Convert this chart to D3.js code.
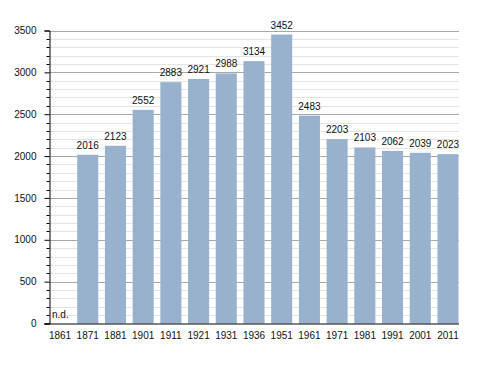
<!DOCTYPE html>
<html><head><meta charset="utf-8">
<script src="https://cdn.jsdelivr.net/npm/d3@7"></script>
<style>
html,body{margin:0;padding:0;background:#fff;}
svg text{font-family:"Liberation Sans",Arial,Helvetica,sans-serif;font-size:10px;fill:#111;}
</style></head>
<body><svg id="c" width="488" height="373"></svg>
<script>
const years = ["1861","1871","1881","1901","1911","1921","1931","1936","1951","1961","1971","1981","1991","2001","2011"];
const population = [null,2016,2123,2552,2883,2921,2988,3134,3452,2483,2203,2103,2062,2039,2023];
const yTicks = [0,500,1000,1500,2000,2500,3000,3500];
const missingLabel = "n.d.";

const svg = d3.select("#c");
const x = d3.scaleBand().domain(years).range([49.5, 458.5]).paddingInner(0.24).paddingOuter(0);
const y = d3.scaleLinear().domain([0,3500]).range([323.5, 30.5]);
const left = 49.5, right = 459;

// minor gridlines
const minor = d3.range(100, 3500, 100).filter(v => v % 500 !== 0);
svg.append("g").selectAll("line").data(minor).join("line")
  .attr("x1", left).attr("x2", right)
  .attr("y1", d => Math.round(y(d))+0.5).attr("y2", d => Math.round(y(d))+0.5)
  .attr("stroke", "#e4e4e4").attr("stroke-width", 1);
// major gridlines
svg.append("g").selectAll("line").data(yTicks.filter(v=>v>0)).join("line")
  .attr("x1", left).attr("x2", right)
  .attr("y1", d => Math.round(y(d))+0.5).attr("y2", d => Math.round(y(d))+0.5)
  .attr("stroke", "#a8a8a8").attr("stroke-width", 1);

// bars
const data = years.map((yr,i)=>({yr, v: population[i]}));
svg.append("g").selectAll("rect").data(data.filter(d=>d.v!=null)).join("rect")
  .attr("x", d => x(d.yr)).attr("width", x.bandwidth())
  .attr("y", d => y(d.v)).attr("height", d => y(0) - y(d.v))
  .attr("fill", "#98b2cd");

// value labels
svg.append("g").selectAll("text").data(data.filter(d=>d.v!=null)).join("text")
  .attr("x", d => x(d.yr) + x.bandwidth()/2)
  .attr("y", d => y(d.v) - 6)
  .attr("text-anchor", "middle")
  .text(d => d.v);
// n.d. label
svg.append("g").selectAll("text").data(data.filter(d=>d.v==null)).join("text")
  .attr("x", d => x(d.yr) + 2.5).attr("y", 317.5)
  .text(missingLabel);

// y axis minor ticks
svg.append("g").selectAll("line").data(minor).join("line")
  .attr("x1", left-3).attr("x2", left)
  .attr("y1", d => Math.round(y(d))+0.5).attr("y2", d => Math.round(y(d))+0.5)
  .attr("stroke", "#000");
// y axis
const yAxis = svg.append("g").attr("transform", `translate(${left},0)`)
  .call(d3.axisLeft(y).tickValues(yTicks).tickSize(5).tickPadding(8).tickFormat(d3.format("d")));
yAxis.select(".domain").attr("stroke", "#000");
yAxis.selectAll(".tick line").attr("stroke", "#000");
yAxis.selectAll("text").attr("fill", "#111").style("font-size","10px").style("font-family",'"Liberation Sans",Arial,sans-serif');

// x axis
const xAxis = svg.append("g").attr("transform", `translate(0,${y(0)})`)
  .call(d3.axisBottom(x).tickSize(0).tickPadding(8));
xAxis.select(".domain").attr("d", `M${left-5},0.5H${right}`).attr("stroke", "#000");
xAxis.selectAll("text").attr("fill", "#111").style("font-size","10px").style("font-family",'"Liberation Sans",Arial,sans-serif');
</script></body></html>
